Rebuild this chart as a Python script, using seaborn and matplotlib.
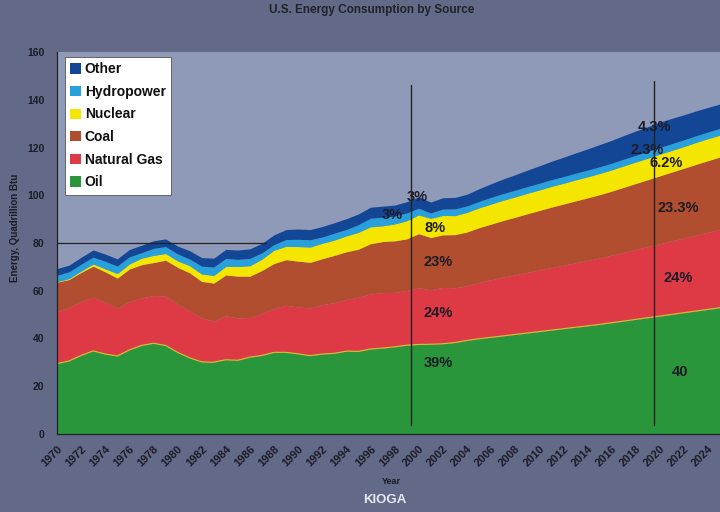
import numpy as np
import pandas as pd
import matplotlib
matplotlib.use("Agg")
import matplotlib.pyplot as plt
from matplotlib.patches import Patch
import seaborn as sns

# ---------------- data (quadrillion Btu) ----------------
years = list(range(1970, 2026))
oil = [29.5, 30.6, 32.9, 34.8, 33.5, 32.7, 35.2, 37.1, 38.0, 37.1,
       34.2, 31.9, 30.2, 30.1, 31.1, 30.9, 32.2, 32.9, 34.2, 34.2,
       33.6, 32.8, 33.5, 33.8, 34.7, 34.6, 35.6, 36.0, 36.5, 37.2,
       37.5, 37.6, 37.8, 38.3, 39.2,
       39.9, 40.5, 41.1, 41.7, 42.3, 42.9, 43.5, 44.1, 44.7, 45.3,
       45.9, 46.6, 47.3, 48.0, 48.7, 49.4, 50.1, 50.8, 51.5, 52.2, 52.9]
natural_gas = [21.8, 22.5, 22.7, 22.5, 21.7, 19.9, 20.3, 19.9, 20.0, 20.7,
               20.2, 19.7, 18.4, 17.2, 18.4, 17.7, 16.6, 17.6, 18.4, 19.7,
               19.6, 20.0, 20.7, 21.2, 21.7, 22.7, 23.1, 23.2, 22.8, 22.9,
               23.8, 22.8, 23.6, 22.9, 22.9,
               23.6, 24.1, 24.6, 25.0, 25.4, 25.8, 26.2, 26.6, 27.0, 27.4,
               27.8, 28.3, 28.8, 29.3, 29.8, 30.3, 30.8, 31.3, 31.8, 32.3, 32.8]
coal = [12.3, 11.6, 12.1, 13.0, 12.7, 12.7, 13.6, 13.9, 13.8, 15.0,
        15.4, 15.9, 15.3, 15.9, 17.1, 17.5, 17.3, 18.0, 18.8, 19.1,
        19.2, 19.1, 19.2, 19.8, 19.9, 20.1, 21.0, 21.4, 21.6, 21.6,
        22.6, 21.9, 22.0, 22.3, 22.5,
        22.9, 23.3, 23.7, 24.1, 24.5, 24.9, 25.3, 25.6, 25.9, 26.2,
        26.5, 26.8, 27.2, 27.6, 28.0, 28.4, 28.8, 29.2, 29.6, 30.0, 30.3]
nuclear = [0.24, 0.41, 0.58, 0.91, 1.27, 1.90, 2.11, 2.70, 3.02, 2.78,
           2.74, 3.01, 3.13, 3.20, 3.55, 4.08, 4.38, 4.75, 5.59, 5.60,
           6.10, 6.42, 6.48, 6.41, 6.69, 7.08, 7.09, 6.60, 7.07, 7.61,
           7.86, 8.03, 8.14, 7.96, 8.22,
           8.3, 8.4, 8.5, 8.5, 8.6, 8.6, 8.7, 8.7, 8.8, 8.8,
           8.9, 8.9, 9.0, 9.0, 9.0, 9.1, 9.1, 9.1, 9.2, 9.2, 9.2]
hydropower = [2.63, 2.82, 2.86, 2.86, 3.18, 3.16, 2.98, 2.33, 2.94, 2.93,
              2.90, 2.76, 3.27, 3.53, 3.39, 2.97, 3.07, 2.63, 2.33, 2.84,
              3.05, 3.02, 2.62, 2.89, 2.68, 3.20, 3.59, 3.64, 3.30, 3.27,
              2.81, 2.24, 2.69, 2.82, 2.69,
              2.7, 2.8, 2.8, 2.8, 2.8, 2.8, 2.8, 2.8, 2.8, 2.8,
              2.8, 2.8, 2.8, 2.8, 2.8, 2.8, 2.8, 2.8, 2.8, 2.8, 2.8]
other = [2.8, 2.8, 2.9, 3.0, 3.0, 3.0, 3.1, 3.1, 3.2, 3.2,
         3.3, 3.5, 3.6, 3.7, 3.8, 3.9, 4.0, 4.0, 4.1, 4.2,
         4.3, 4.3, 4.4, 4.4, 4.5, 4.5, 4.6, 4.6, 4.6, 4.7,
         4.7, 4.6, 4.7, 4.8, 4.9,
         5.3, 5.7, 6.1, 6.5, 6.9, 7.3, 7.7, 8.1, 8.5, 8.9,
         9.3, 9.6, 9.9, 10.2, 10.4, 10.6, 10.6, 10.5, 10.4, 10.3, 10.2]

sources = ["Oil", "Natural Gas", "Coal", "Nuclear", "Hydropower", "Other"]
colors = ["#2A963C", "#DE3A46", "#B24E30", "#F5E600", "#28A0DC", "#144696"]

# share annotations (label, year, value)
labels_2000 = ["3%", "3%", "8%", "23%", "24%", "39%"]
label_years_2000 = [1999.9, 1997.8, 2001.4, 2001.6, 2001.6, 2001.6]
label_vals_2000 = [99.3, 91.7, 86.3, 72.0, 50.7, 29.7]
labels_2020 = ["4.3%", "2.3%", "6.2%", "23.3%", "24%", "40"]
label_years_2020 = [2019.6, 2019.0, 2020.5, 2021.5, 2021.5, 2021.7]
label_vals_2020 = [128.6, 119.0, 113.5, 94.7, 65.3, 26.0]

df = pd.DataFrame({"Year": years, "Oil": oil, "Natural Gas": natural_gas,
                   "Coal": coal, "Nuclear": nuclear,
                   "Hydropower": hydropower, "Other": other})

# ---------------- style ----------------
sns.set_theme(style="white")
plt.rcParams["font.family"] = ["Liberation Sans", "DejaVu Sans"]
plt.rcParams["font.weight"] = "bold"

fig_bg = "#626A88"
ax_bg = "#8F9AB8"
txt = "#1C1C26"

fig = plt.figure(figsize=(7.2, 5.12), dpi=100, facecolor=fig_bg)
ax = fig.add_axes([57 / 720, 1 - 434 / 512, (720 - 57) / 720, (434 - 52) / 512])
ax.set_facecolor(ax_bg)

ax.stackplot(df["Year"], *[df[s] for s in sources], colors=colors,
             linewidth=0)
# thin boundary on top of oil layer
sns.lineplot(x=df["Year"], y=df["Oil"], ax=ax, color="#C8C830",
             linewidth=0.8, legend=False)

ax.set_xlim(1970, 2025)
ax.set_ylim(0, 160)

# reference lines
ax.plot([1970, 1987.3], [80, 80], color="#222222", linewidth=0.9)
ax.plot([1999.4, 1999.4], [3.8, 146], color="#222222", linewidth=1.0)
ax.plot([2019.5, 2019.5], [3.8, 148], color="#222222", linewidth=1.0)

for t, x, y in zip(labels_2000, label_years_2000, label_vals_2000):
    ax.text(x, y, t, fontsize=10.5, fontweight="bold", color=txt,
            ha="center", va="center")
for t, x, y in zip(labels_2020, label_years_2020, label_vals_2020):
    ax.text(x, y, t, fontsize=10.5, fontweight="bold", color=txt,
            ha="center", va="center")

# axes / ticks
ax.set_xticks(list(range(1970, 2025, 2)))
ax.set_xticks(list(range(1970, 2026)), minor=True)
ax.set_xticklabels([str(y) for y in range(1970, 2025, 2)], rotation=45,
                   ha="right", va="top", rotation_mode="anchor",
                   fontsize=8, fontweight="bold", color=txt)
ax.set_yticks(list(range(0, 161, 20)))
ax.set_yticklabels([str(v) for v in range(0, 161, 20)], fontsize=7.5,
                   fontweight="bold", color=txt)
ax.tick_params(axis="both", which="both", direction="out", color="#222222")
ax.tick_params(axis="x", which="major", length=3, width=0.8, pad=4)
ax.tick_params(axis="x", which="minor", length=2, width=0.6)
ax.tick_params(axis="y", length=3, width=0.8, pad=6)
for side in ["top", "right"]:
    ax.spines[side].set_visible(False)
for side in ["left", "bottom"]:
    ax.spines[side].set_color("#222222")
    ax.spines[side].set_linewidth(0.9)

ax.set_xlabel("")
ax.set_ylabel("")
fig.text(15 / 720, 1 - 228 / 512, "Energy, Quadrillion Btu", rotation=90,
         fontsize=7, fontweight="bold", color=txt, ha="center", va="center")
fig.text(391 / 720, 1 - 482 / 512, "Year", fontsize=6.5, fontweight="bold",
         color=txt, ha="center", va="center")
fig.text(385 / 720, 1 - 500 / 512, "KIOGA", fontsize=9.5, fontweight="bold",
         color="#E6E8F0", ha="center", va="center")
fig.text(372 / 720, 1 - 10 / 512, "U.S. Energy Consumption by Source",
         fontsize=8.5, fontweight="bold", color="#22222A", ha="center",
         va="center")

# legend (top entry = Other)
handles = [Patch(facecolor=c, edgecolor="none") for c in colors][::-1]
leg = ax.legend(handles, sources[::-1], loc="upper left",
                bbox_to_anchor=((65 - 57) / 663, (434 - 57) / 382),
                frameon=True, fancybox=False, framealpha=1.0,
                facecolor="white", edgecolor="#555555",
                prop={"weight": "bold", "size": 10},
                handlelength=0.75, handleheight=0.75, handletextpad=0.3,
                labelspacing=0.62, borderpad=0.38, borderaxespad=0)
leg.get_frame().set_linewidth(0.6)
for t in leg.get_texts():
    t.set_color("#111111")

fig.savefig("out.png", dpi=100, facecolor=fig_bg)
